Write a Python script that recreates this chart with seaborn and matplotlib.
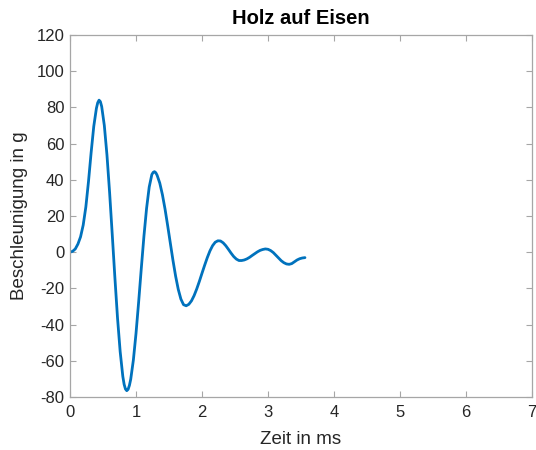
import numpy as np
import pandas as pd
import matplotlib
matplotlib.use("Agg")
import matplotlib.pyplot as plt
import seaborn as sns

# Data
time_ms = [0.00, 0.04, 0.08, 0.12, 0.16, 0.20, 0.24, 0.28, 0.32, 0.36,
           0.40, 0.42, 0.44, 0.46, 0.48, 0.52, 0.56, 0.60, 0.64, 0.68,
           0.72, 0.76, 0.80, 0.82, 0.84, 0.86, 0.88, 0.90, 0.92, 0.96,
           1.00, 1.04, 1.08, 1.12, 1.16, 1.20, 1.24, 1.26, 1.28, 1.30,
           1.32, 1.36, 1.40, 1.44, 1.48, 1.52, 1.56, 1.60, 1.64, 1.68,
           1.72, 1.76, 1.80, 1.84, 1.88, 1.92, 1.96, 2.00, 2.04, 2.08,
           2.12, 2.16, 2.20, 2.24, 2.28, 2.32, 2.36, 2.40, 2.44, 2.48,
           2.52, 2.56, 2.60, 2.64, 2.68, 2.72, 2.76, 2.80, 2.84, 2.88,
           2.92, 2.96, 3.00, 3.04, 3.08, 3.12, 3.16, 3.20, 3.24, 3.28,
           3.32, 3.36, 3.40, 3.44, 3.48, 3.52, 3.56]
accel_g = [0.0, 0.5, 1.8, 4.5, 8.5, 15.0, 25.0, 39.0, 55.0, 69.5,
           79.5, 82.6, 84.0, 83.2, 80.5, 70.0, 53.7, 33.0, 9.8, -14.0,
           -36.4, -54.9, -68.6, -73.0, -75.6, -76.5, -75.8, -73.6, -70.2, -59.6,
           -44.9, -27.5, -9.0, 8.8, 24.2, 36.0, 42.9, 44.1, 44.5, 43.9,
           42.5, 38.2, 31.8, 23.8, 14.6, 5.0, -4.5, -13.2, -20.5, -25.9,
           -29.0, -29.6, -28.8, -26.9, -24.0, -20.3, -16.1, -11.6, -7.2, -3.0,
           0.7, 3.6, 5.5, 6.3, 6.2, 5.2, 3.6, 1.6, -0.5, -2.4,
           -3.8, -4.6, -4.6, -4.3, -3.7, -2.85, -1.8, -0.8, 0.2, 1.0,
           1.5, 1.8, 1.6, 0.9, -0.2, -1.7, -3.2, -4.7, -5.8, -6.5,
           -6.7, -6.3, -5.3, -4.3, -3.6, -3.2, -3.0]
x_ticks = [0, 1, 2, 3, 4, 5, 6, 7]
y_ticks = [-80, -60, -40, -20, 0, 20, 40, 60, 80, 100, 120]

df = pd.DataFrame({"Zeit": time_ms, "Beschleunigung": accel_g})

sns.set_theme(style="white")
plt.rcParams["font.family"] = ["Liberation Sans", "DejaVu Sans"]

fig = plt.figure(figsize=(5.36, 4.5), dpi=100)
ax = fig.add_axes([0.1306, 0.1178, 0.862, 0.8044])

sns.lineplot(data=df, x="Zeit", y="Beschleunigung", ax=ax, color="#0072BD",
             linewidth=2.0, sort=False, estimator=None)

ax.set_xlim(0, 7)
ax.set_ylim(-80, 120)
ax.set_xticks(x_ticks)
ax.set_yticks(y_ticks)
ax.set_xticklabels([str(v) for v in x_ticks])
ax.set_yticklabels([str(v) for v in y_ticks])

edge = "#a6a6a6"
for s in ax.spines.values():
    s.set_visible(True)
    s.set_color(edge)
    s.set_linewidth(0.9)

ax.tick_params(axis="both", which="both", direction="in", length=4,
               width=0.8, color=edge, labelsize=12, labelcolor="#262626",
               top=True, right=True, bottom=True, left=True)
ax.tick_params(axis="x", pad=6)
ax.tick_params(axis="y", pad=4)
ax.grid(False)

ax.set_xlabel("Zeit in ms", fontsize=13.5, color="#262626", labelpad=8)
ax.set_ylabel("Beschleunigung in g", fontsize=13.5, color="#262626", labelpad=6)
ax.set_title("Holz auf Eisen", fontsize=14.5, fontweight="bold", color="black", pad=8)

fig.savefig("out.png", dpi=100)
